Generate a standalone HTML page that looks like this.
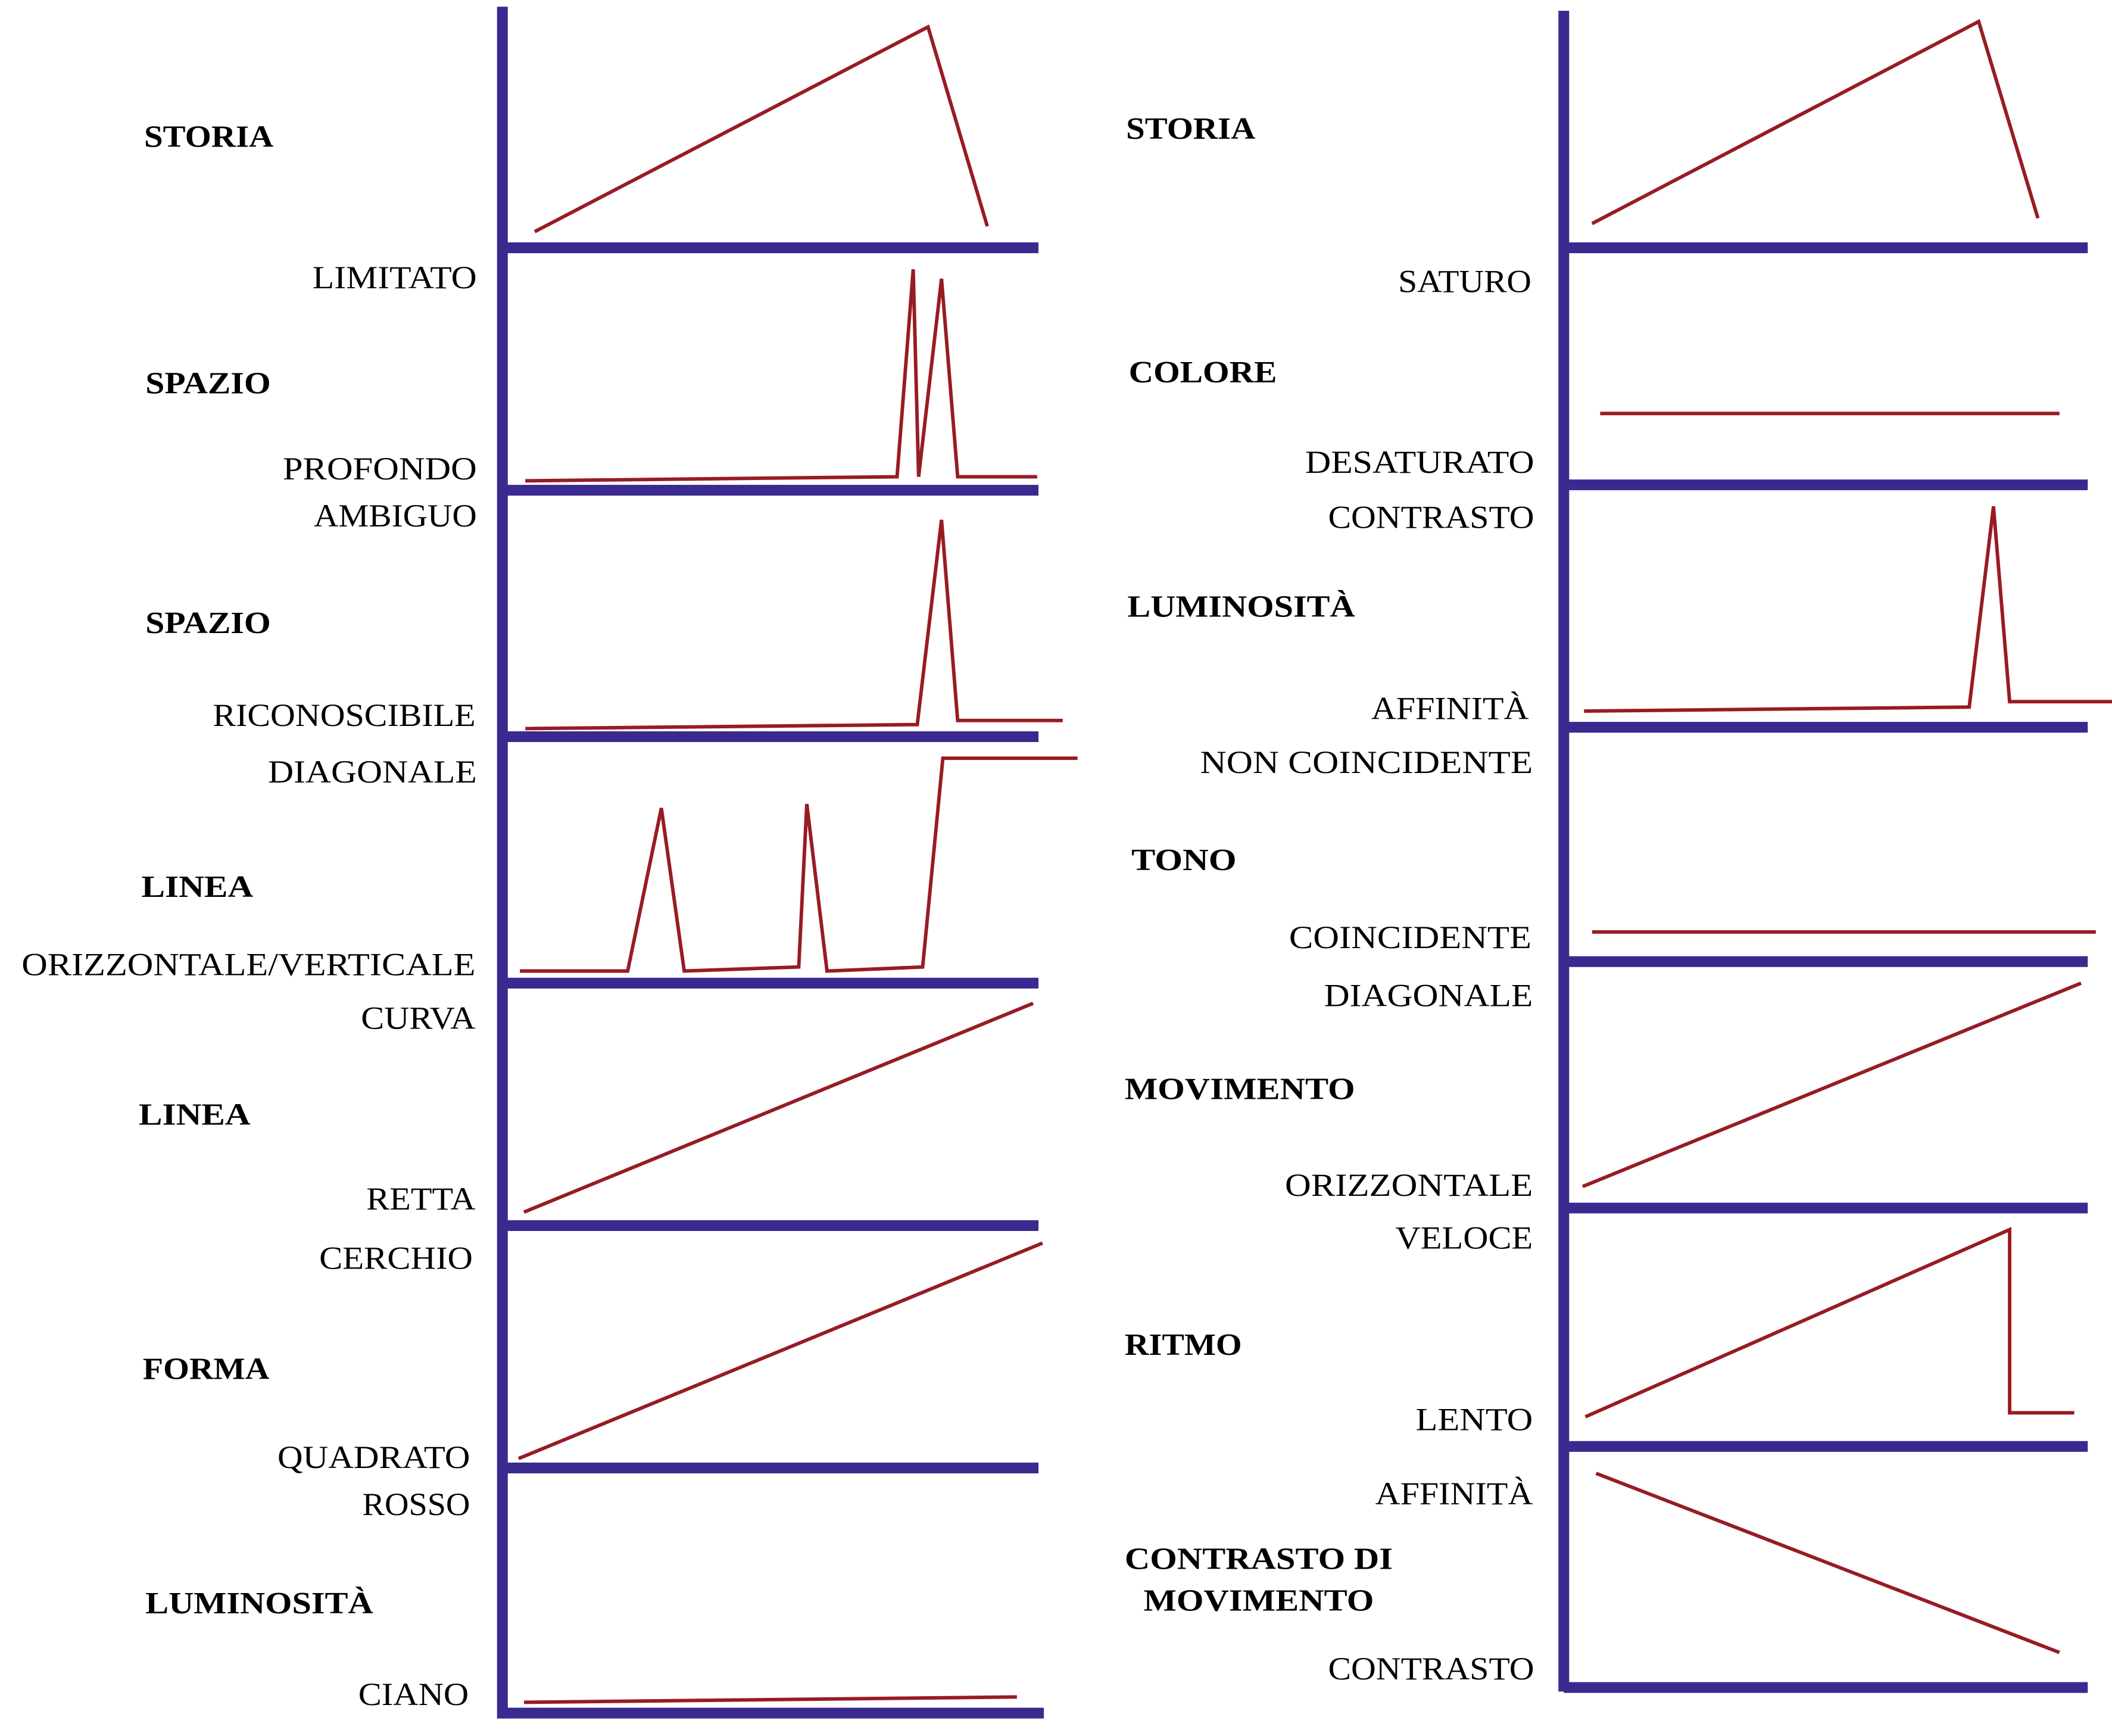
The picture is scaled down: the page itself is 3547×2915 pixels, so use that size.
<!DOCTYPE html>
<html><head><meta charset="utf-8"><style>
html,body{margin:0;padding:0;background:#fff;}
svg{display:block;}
text{font-family:"Liberation Serif",serif;fill:#000;font-size:24px;}
.b{font-weight:bold;font-size:23px;}
</style></head><body>
<svg width="3547" height="2915" viewBox="0 0 1568 1289" preserveAspectRatio="none" xmlns="http://www.w3.org/2000/svg">
<g stroke="#3a2a8f" stroke-width="8" fill="none" stroke-linecap="butt">
<line x1="373" y1="5" x2="373" y2="1276"/>
<line x1="373" y1="184" x2="771" y2="184"/>
<line x1="373" y1="364" x2="771" y2="364"/>
<line x1="373" y1="547" x2="771" y2="547"/>
<line x1="373" y1="730" x2="771" y2="730"/>
<line x1="373" y1="910" x2="771" y2="910"/>
<line x1="373" y1="1090" x2="771" y2="1090"/>
<line x1="373" y1="1272" x2="775" y2="1272"/>
<line x1="1161" y1="8" x2="1161" y2="1256"/>
<line x1="1161" y1="184" x2="1550" y2="184"/>
<line x1="1161" y1="360" x2="1550" y2="360"/>
<line x1="1161" y1="540" x2="1550" y2="540"/>
<line x1="1161" y1="714" x2="1550" y2="714"/>
<line x1="1161" y1="897" x2="1550" y2="897"/>
<line x1="1161" y1="1074" x2="1550" y2="1074"/>
<line x1="1161" y1="1253" x2="1550" y2="1253"/>
</g>
<g stroke="#981b24" stroke-width="2.6" fill="none" stroke-linejoin="miter">
<polyline points="397,172 689,20 733,168"/>
<polyline points="390,357 666,354 678,200 682,354 699,207 711,354 770,354"/>
<polyline points="390,541 681,538 699,386 711,535 789,535"/>
<polyline points="386,721 466,721 491,600 508,721 593,718 599,597 614,721 685,718 700,563 800,563"/>
<polyline points="389,900 767,745"/>
<polyline points="385,1083 774,923"/>
<polyline points="389,1264 755,1260"/>
<polyline points="1182,166 1469,16 1513,162"/>
<polyline points="1188,307 1529,307"/>
<polyline points="1176,528 1462,525 1480,376 1492,521 1568,521"/>
<polyline points="1182,692 1556,692"/>
<polyline points="1175,881 1545,730"/>
<polyline points="1177,1052 1492,913 1492,1049 1540,1049"/>
<polyline points="1185,1094 1529,1227"/>
</g>
<g>
<text x="232" y="214" textLength="122" lengthAdjust="spacingAndGlyphs">LIMITATO</text>
<text x="210" y="356" textLength="144" lengthAdjust="spacingAndGlyphs">PROFONDO</text>
<text x="233" y="391" textLength="121" lengthAdjust="spacingAndGlyphs">AMBIGUO</text>
<text x="158" y="539" textLength="195" lengthAdjust="spacingAndGlyphs">RICONOSCIBILE</text>
<text x="199" y="581" textLength="155" lengthAdjust="spacingAndGlyphs">DIAGONALE</text>
<text x="16" y="724" textLength="337" lengthAdjust="spacingAndGlyphs">ORIZZONTALE/VERTICALE</text>
<text x="268" y="764" textLength="85" lengthAdjust="spacingAndGlyphs">CURVA</text>
<text x="272" y="898" textLength="81" lengthAdjust="spacingAndGlyphs">RETTA</text>
<text x="237" y="942" textLength="114" lengthAdjust="spacingAndGlyphs">CERCHIO</text>
<text x="206" y="1090" textLength="143" lengthAdjust="spacingAndGlyphs">QUADRATO</text>
<text x="269" y="1125" textLength="80" lengthAdjust="spacingAndGlyphs">ROSSO</text>
<text x="266" y="1266" textLength="82" lengthAdjust="spacingAndGlyphs">CIANO</text>
<text class="b" x="107" y="109" textLength="96" lengthAdjust="spacingAndGlyphs">STORIA</text>
<text class="b" x="108" y="292" textLength="93" lengthAdjust="spacingAndGlyphs">SPAZIO</text>
<text class="b" x="108" y="470" textLength="93" lengthAdjust="spacingAndGlyphs">SPAZIO</text>
<text class="b" x="105" y="666" textLength="83" lengthAdjust="spacingAndGlyphs">LINEA</text>
<text class="b" x="103" y="835" textLength="83" lengthAdjust="spacingAndGlyphs">LINEA</text>
<text class="b" x="106" y="1024" textLength="94" lengthAdjust="spacingAndGlyphs">FORMA</text>
<text class="b" x="108" y="1198" textLength="169" lengthAdjust="spacingAndGlyphs">LUMINOSITÀ</text>
<text x="1038" y="217" textLength="99" lengthAdjust="spacingAndGlyphs">SATURO</text>
<text x="969" y="351" textLength="170" lengthAdjust="spacingAndGlyphs">DESATURATO</text>
<text x="986" y="392" textLength="153" lengthAdjust="spacingAndGlyphs">CONTRASTO</text>
<text x="1018" y="534" textLength="117" lengthAdjust="spacingAndGlyphs">AFFINITÀ</text>
<text x="891" y="574" textLength="247" lengthAdjust="spacingAndGlyphs">NON COINCIDENTE</text>
<text x="957" y="704" textLength="180" lengthAdjust="spacingAndGlyphs">COINCIDENTE</text>
<text x="983" y="747" textLength="155" lengthAdjust="spacingAndGlyphs">DIAGONALE</text>
<text x="954" y="888" textLength="184" lengthAdjust="spacingAndGlyphs">ORIZZONTALE</text>
<text x="1036" y="927" textLength="102" lengthAdjust="spacingAndGlyphs">VELOCE</text>
<text x="1051" y="1062" textLength="87" lengthAdjust="spacingAndGlyphs">LENTO</text>
<text x="1021" y="1117" textLength="117" lengthAdjust="spacingAndGlyphs">AFFINITÀ</text>
<text x="986" y="1247" textLength="153" lengthAdjust="spacingAndGlyphs">CONTRASTO</text>
<text class="b" x="836" y="103" textLength="96" lengthAdjust="spacingAndGlyphs">STORIA</text>
<text class="b" x="838" y="284" textLength="110" lengthAdjust="spacingAndGlyphs">COLORE</text>
<text class="b" x="837" y="458" textLength="169" lengthAdjust="spacingAndGlyphs">LUMINOSITÀ</text>
<text class="b" x="840" y="646" textLength="78" lengthAdjust="spacingAndGlyphs">TONO</text>
<text class="b" x="835" y="816" textLength="171" lengthAdjust="spacingAndGlyphs">MOVIMENTO</text>
<text class="b" x="835" y="1006" textLength="87" lengthAdjust="spacingAndGlyphs">RITMO</text>
<text class="b" x="835" y="1165" textLength="199" lengthAdjust="spacingAndGlyphs">CONTRASTO DI</text>
<text class="b" x="849" y="1196" textLength="171" lengthAdjust="spacingAndGlyphs">MOVIMENTO</text>
</g>
</svg>
</body></html>
